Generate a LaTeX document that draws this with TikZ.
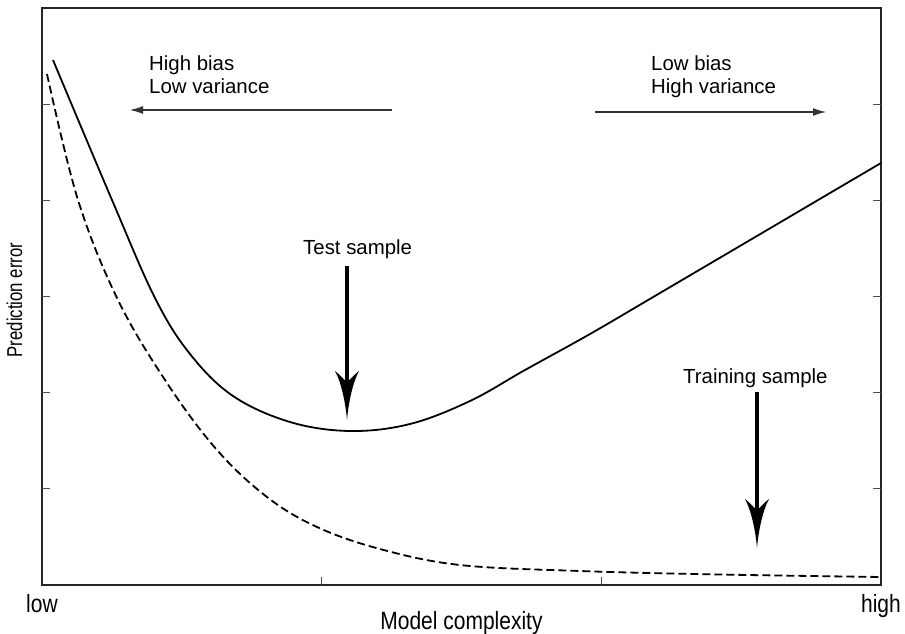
\documentclass[tikz,border=0pt]{standalone}
\usepackage{fontspec}
\setmainfont{Liberation Sans}
\newfontfamily\annfont{Liberation Sans}
\newfontfamily\axfont[FakeStretch=0.84]{Liberation Sans}
\newfontfamily\ylfont[FakeStretch=0.78]{Liberation Sans}
\usetikzlibrary{arrows.meta}
\tikzset{
  axisline/.style={line width=1.6pt, draw=black!85},
  tickmark/.style={line width=1pt, draw=black!70},
  curve/.style={line width=1.8pt, line join=round},
  dashcurve/.style={curve, dash pattern=on 8pt off 4pt},
  ann/.style={font=\annfont\fontsize{20.4}{22.5}\selectfont, inner sep=0pt, align=left},
  axlab/.style={font=\axfont\fontsize{25}{28}\selectfont, inner sep=0pt},
  ylab/.style={font=\ylfont\fontsize{21.5}{24}\selectfont, inner sep=0pt},
  thinarrow/.style={line width=1.1pt, draw=black!80, -{Latex[length=13pt,width=8pt]}},
  bigshaft/.style={line width=4.6pt},
  bighead/.pic={\fill (0,0) .. controls (-1.5,-18) and (-6,-38) .. (-12,-49)
     .. controls (-6,-44) and (-2,-40) .. (0,-37)
     .. controls (2,-40) and (6,-44) .. (12,-49)
     .. controls (6,-38) and (1.5,-18) .. (0,0) -- cycle;}
}
\begin{document}
\begin{tikzpicture}[x=1pt,y=-1pt]
\useasboundingbox (0,0) rectangle (905,634);
% axes
\draw[axisline] (42,8) rectangle (881,585);
\foreach \y in {104.2,200.3,296.5,392.7,488.8} {
  \draw[tickmark] (42,\y) -- ++(8,0);
  \draw[tickmark] (881,\y) -- ++(-8,0);
}
\foreach \x in {321.7,601.3} \draw[tickmark] (\x,585) -- ++(0,-8);
% curves
\draw[curve] plot[smooth, tension=0.6] coordinates {
 (53,60) (112,200) (155,298) (190,354) (233,396) (290,422) (350,431)
 (410,424) (470,401) (525,370) (590,334) (660,293) (881,163)};
\draw[dashcurve] plot[smooth, tension=0.6] coordinates {
 (47,74) (78,200) (118,300) (167,383) (217,450) (267,497) (317,527)
 (380,549) (460,565) (580,571) (720,574.5) (881,577)};
% annotations
\node[ann, anchor=north west] (hb) at (149,56) {High bias\\Low variance};
\node[ann, anchor=north west] (lb) at (651,56) {Low bias\\High variance};
\coordinate (la0) at (392,110); \coordinate (la1) at (130,110);
\coordinate (ra0) at (595,112); \coordinate (ra1) at (826,112);
\draw[thinarrow] (la0) -- (la1);
\draw[thinarrow] (ra0) -- (ra1);
\node[ann, anchor=base west] (ts) at (303,254) {Test sample};
\node[ann, anchor=base west] (tr) at (683,383) {Training sample};
\coordinate (tstop) at (347,266); \coordinate (tsneck) at (347,390); \coordinate (tstip) at (347,420);
\coordinate (trtop) at (757,392); \coordinate (trneck) at (757,518); \coordinate (trtip) at (757,548);
\draw[bigshaft] (tstop) -- (tsneck);
\pic at (tstip) {bighead};
\draw[bigshaft] (trtop) -- (trneck);
\pic at (trtip) {bighead};
% axis labels
\node[axlab, anchor=base] (low) at (42,612) {low};
\node[axlab, anchor=base] (high) at (881,612) {high};
\node[axlab, anchor=base] (mc) at (461.5,629) {Model complexity};
\node[ylab, rotate=90, anchor=base] (pe) at (22,300) {Prediction error};
\end{tikzpicture}
\end{document}
